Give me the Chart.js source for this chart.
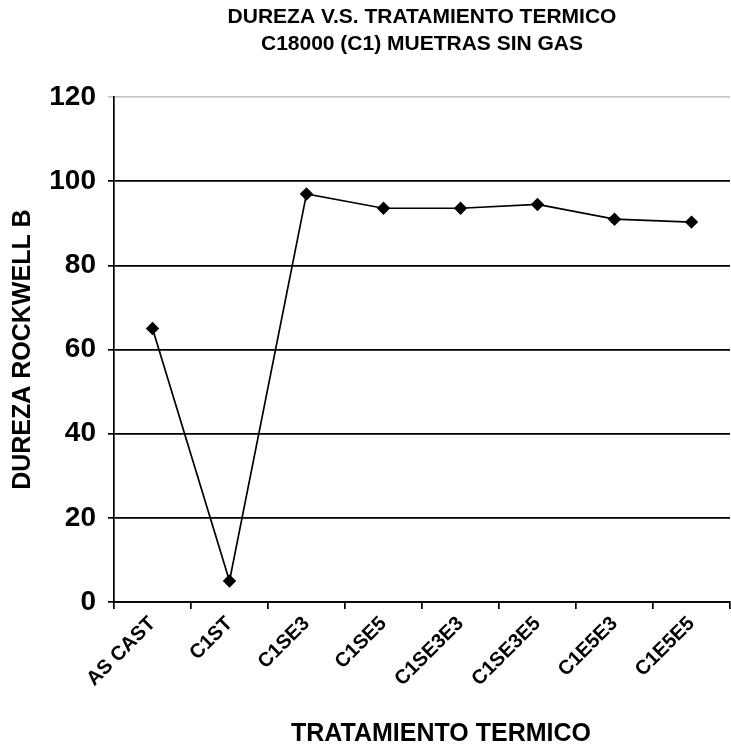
<!DOCTYPE html>
<html>
<head>
<meta charset="utf-8">
<script src="https://cdn.jsdelivr.net/npm/chart.js@4/dist/chart.umd.min.js"></script>
<style>
  html, body { margin: 0; padding: 0; background: #fff; }
  #wrap { width: 731px; height: 746px; }
</style>
</head>
<body>
<div id="wrap"><canvas id="grafica"></canvas></div>
<script>
// Datos
const tratamientos = ['AS CAST', 'C1ST', 'C1SE3', 'C1SE5', 'C1SE3E3', 'C1SE3E5', 'C1E5E3', 'C1E5E5'];
const dureza = [65, 5, 97, 93.6, 93.6, 94.5, 91, 90.3];
const titulo = ['DUREZA V.S. TRATAMIENTO TERMICO', 'C18000 (C1) MUETRAS SIN GAS'];
const tituloY = 'DUREZA ROCKWELL B';
const tituloX = 'TRATAMIENTO TERMICO';

const fuente = '"Liberation Sans", Arial, sans-serif';

// Título del eje X un poco desplazado a la derecha, como en el original
const tituloXPlugin = {
  id: 'tituloX',
  afterDraw(chart) {
    const { ctx, chartArea } = chart;
    ctx.save();
    ctx.font = 'bold 25px ' + fuente;
    ctx.fillStyle = '#000';
    ctx.textAlign = 'center';
    ctx.textBaseline = 'middle';
    ctx.fillText(tituloX, (chartArea.left + chartArea.right) / 2 + 19, 734);
    ctx.restore();
  }
};

const ctx = document.getElementById('grafica').getContext('2d');
new Chart(ctx, {
  type: 'line',
  data: {
    labels: tratamientos,
    datasets: [{
      label: 'Dureza',
      data: dureza,
      borderColor: '#000',
      backgroundColor: '#000',
      borderWidth: 1.7,
      pointStyle: 'rectRot',
      pointRadius: 5.5,
      pointHoverRadius: 5.5,
      tension: 0
    }]
  },
  options: {
    responsive: true,
    maintainAspectRatio: false,
    animation: false,
    layout: { autoPadding: false, padding: { left: 0, right: 1, top: 0, bottom: 0 } },
    plugins: {
      legend: { display: false },
      tooltip: { enabled: false },
      title: {
        display: true,
        text: titulo,
        fullSize: false,
        color: '#000',
        font: { family: fuente, size: 21, weight: 'bold', lineHeight: 1.29 },
        padding: { top: 4, bottom: 39 }
      }
    },
    scales: {
      x: {
        offset: true,
        grid: {
          offset: true,
          drawOnChartArea: false,
          color: '#000',
          lineWidth: 1.7,
          tickLength: 7
        },
        border: { color: '#000', width: 1.7 },
        ticks: {
          color: '#000',
          maxRotation: 45,
          minRotation: 45,
          padding: 3,
          font: { family: fuente, size: 20, weight: 'bold' }
        },
        afterFit(scale) {
          scale.height = 144;
          scale.paddingLeft = 0;
          scale.paddingRight = 0;
        }
      },
      y: {
        min: 0,
        max: 120,
        ticks: {
          stepSize: 20,
          color: '#000',
          padding: 12,
          font: { family: fuente, size: 28, weight: 'bold' }
        },
        grid: {
          color: c => (c.tick && c.tick.value === 120) ? '#c8c8c8' : '#000',
          lineWidth: 1.7,
          tickLength: 6
        },
        border: { color: '#000', width: 1.7 },
        title: {
          display: true,
          text: tituloY,
          color: '#000',
          padding: { top: 8, bottom: 0 },
          font: { family: fuente, size: 25, weight: 'bold' }
        },
        afterFit(scale) { scale.width = 114; }
      }
    }
  },
  plugins: [tituloXPlugin]
});
</script>
</body>
</html>
